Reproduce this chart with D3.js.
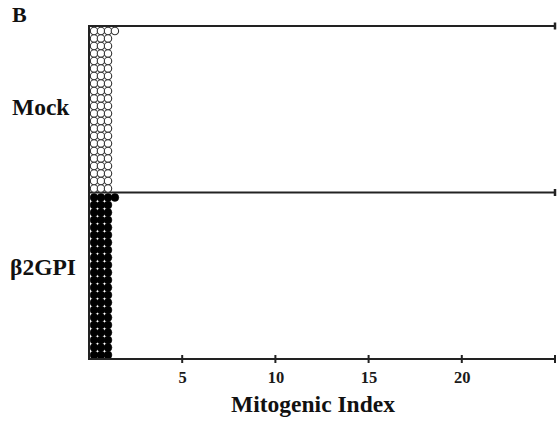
<!DOCTYPE html>
<html>
<head>
<meta charset="utf-8">
<script src="https://cdn.jsdelivr.net/npm/d3@7"></script>
<style>
  html, body { margin: 0; padding: 0; background: #fff; }
  svg { display: block; }
</style>
</head>
<body>
<svg id="chart" width="557" height="421"></svg>
<script>
// Groups shown as horizontal panels
const groups = ["Mock", "β2GPI"];
// Mitogenic index bin centres used for each dot column
const binValues = [0.27, 0.64, 1.02, 1.39];
// Number of dots stacked in each bin, per group
const mockCounts = [22, 22, 22, 1];
const b2gpiCounts = [22, 22, 22, 1];
// Axis ticks
const tickValues = [5, 10, 15, 20, 25];
const tickLabels = ["5", "10", "15", "20", ""];

const serif = "Liberation Serif";
const svg = d3.select("#chart");
const left = 89, right = 555;
const panelTop = 26, panelBottom = 359;

const x = d3.scaleLinear().domain([0, 25]).range([left, right]);
const band = d3.scaleBand().domain(groups).range([panelTop, panelBottom]).paddingInner(0);
const maxRows = 22;

const countsByGroup = { "Mock": mockCounts, "β2GPI": b2gpiCounts };
const styleByGroup = {
  "Mock": { fill: "#fff", stroke: "#333", r: 3.7, sw: 1.1 },
  "β2GPI": { fill: "#000", stroke: "#000", r: 3.9, sw: 0.5 }
};

// Row position within each panel (rows counted from the top of the panel)
function rowScale(g) {
  const y0 = band(g), y1 = y0 + band.bandwidth();
  return d3.scaleLinear().domain([0, maxRows - 1]).range([y0 + 5, y1 - 4]);
}

// Panel top / divider lines with end tick
groups.forEach(g => {
  const y = band(g);
  svg.append("line").attr("x1", left).attr("x2", right).attr("y1", y).attr("y2", y)
    .attr("stroke", "#222").attr("stroke-width", 2);
  svg.append("line").attr("x1", x(25)).attr("x2", x(25)).attr("y1", y - 3.5).attr("y2", y + 3.5)
    .attr("stroke", "#222").attr("stroke-width", 2.5);
});

// Dots
groups.forEach(g => {
  const ry = rowScale(g);
  const st = styleByGroup[g];
  const dots = [];
  countsByGroup[g].forEach((n, ci) => {
    for (let r = 0; r < n; r++) dots.push({ v: binValues[ci], r });
  });
  svg.append("g").selectAll("circle").data(dots).join("circle")
    .attr("cx", d => x(d.v))
    .attr("cy", d => ry(d.r))
    .attr("r", st.r)
    .attr("fill", st.fill)
    .attr("stroke", st.stroke)
    .attr("stroke-width", st.sw);
});

// Bottom axis
const axis = d3.axisBottom(x).tickValues(tickValues)
  .tickFormat((d, i) => tickLabels[i]).tickSizeInner(0).tickSizeOuter(0).tickPadding(12);
const ag = svg.append("g").attr("transform", `translate(0,${panelBottom})`).call(axis);
ag.select(".domain").remove();
ag.selectAll("text")
  .attr("font-family", serif).attr("font-size", 16.5)
  .attr("font-weight", "bold").attr("fill", "#1a1a1a");
svg.append("line").attr("x1", left).attr("x2", right).attr("y1", panelBottom).attr("y2", panelBottom)
  .attr("stroke", "#222").attr("stroke-width", 2);
svg.append("g").selectAll("line").data(tickValues).join("line")
  .attr("x1", d => x(d)).attr("x2", d => x(d))
  .attr("y1", panelBottom - 4).attr("y2", panelBottom + 4)
  .attr("stroke", "#222").attr("stroke-width", 2);

// Left vertical line
svg.append("line").attr("x1", left).attr("x2", left).attr("y1", panelTop - 1).attr("y2", panelBottom + 1)
  .attr("stroke", "#222").attr("stroke-width", 2);

function label(tx, ty, size, str, anchor) {
  svg.append("text").attr("x", tx).attr("y", ty)
    .attr("font-family", serif).attr("font-weight", "bold").attr("fill", "#111")
    .attr("font-size", size).attr("text-anchor", anchor || "start").text(str);
}

// Group labels
label(12, 115, 23.5, "Mock");
label(10, 275, 23.5, "β2GPI");

// Panel letter
label(12, 22, 22, "B");

// Axis title
label(313, 412, 23.5, "Mitogenic Index", "middle");
</script>
</body>
</html>
